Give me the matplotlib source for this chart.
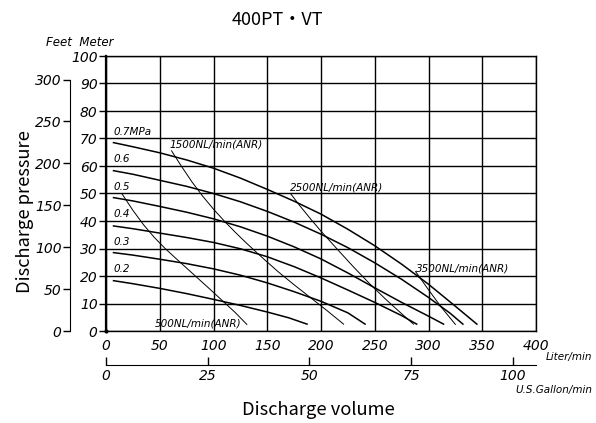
import matplotlib
matplotlib.use("Agg")
import matplotlib.pyplot as plt

plt.rcParams.update({
    "font.family": ["DejaVu Sans", "Noto Sans CJK JP"],
    "font.size": 9,
    "figure.dpi": 100,
})

# pressure curves (air supply pressure, MPa): flow L/min vs head m
p07_x = [7, 25, 50, 75, 100, 125, 150, 175, 200, 225, 250, 275, 300, 325, 345]
p07_y = [68.5, 67.0, 64.8, 62.2, 59.2, 55.6, 51.5, 47.2, 42.5, 37.0, 31.0, 24.3, 17.0, 9.0, 2.5]
p06_x = [7, 25, 50, 75, 100, 125, 150, 175, 200, 225, 250, 275, 300, 320, 332]
p06_y = [58.3, 57.0, 54.8, 52.6, 50.0, 47.0, 43.5, 39.6, 35.2, 30.3, 24.8, 18.8, 12.2, 6.5, 2.5]
p05_x = [7, 25, 50, 75, 100, 125, 150, 175, 200, 225, 250, 275, 300, 314]
p05_y = [48.5, 47.3, 45.3, 43.2, 40.8, 37.9, 34.5, 30.6, 26.2, 21.1, 15.7, 10.4, 5.4, 2.5]
p04_x = [7, 25, 50, 75, 100, 125, 150, 175, 200, 225, 250, 275, 289]
p04_y = [38.2, 37.2, 35.6, 34.0, 32.2, 29.9, 27.0, 23.4, 19.3, 14.9, 10.4, 5.6, 2.5]
p03_x = [7, 25, 50, 75, 100, 125, 150, 175, 200, 225, 241]
p03_y = [28.5, 27.6, 26.1, 24.5, 22.6, 20.3, 17.5, 14.3, 10.8, 6.6, 2.5]
p02_x = [7, 25, 50, 75, 100, 125, 150, 170, 187]
p02_y = [18.3, 17.2, 15.5, 13.6, 11.5, 9.3, 6.9, 4.8, 2.5]

pressure_curves = [
    ("0.7MPa", p07_x, p07_y, 70),
    ("0.6", p06_x, p06_y, 60),
    ("0.5", p05_x, p05_y, 50),
    ("0.4", p04_x, p04_y, 40),
    ("0.3", p03_x, p03_y, 30),
    ("0.2", p02_x, p02_y, 20),
]

# air consumption lines (NL/min ANR)
a500_x = [15, 25, 35, 45, 55, 65, 80, 95, 110, 120, 131]
a500_y = [49.8, 43.9, 38.6, 34.0, 30.0, 26.4, 21.1, 15.8, 10.4, 6.8, 2.4]
a1500_x = [61, 70, 80, 90, 100, 110, 120, 130, 145, 160, 175, 190, 205, 221]
a1500_y = [65.5, 60.0, 54.2, 49.0, 44.3, 40.0, 36.0, 32.2, 26.8, 21.6, 16.8, 12.2, 7.6, 2.5]
a2500_x = [172, 180, 190, 200, 215, 230, 245, 260, 275, 286]
a2500_y = [49.8, 45.7, 40.9, 36.3, 29.8, 23.4, 17.3, 11.6, 6.3, 2.5]
a3500_x = [288, 300, 312, 325]
a3500_y = [21.6, 15.0, 8.6, 2.4]

air_lines = [(a500_x, a500_y), (a1500_x, a1500_y), (a2500_x, a2500_y), (a3500_x, a3500_y)]
air_labels = [
    ("500NL/min(ANR)", 45, 0.8),
    ("1500NL/min(ANR)", 59, 66.0),
    ("2500NL/min(ANR)", 171, 50.5),
    ("3500NL/min(ANR)", 288, 21.0),
]

m_ticks = list(range(0, 101, 10))
ft_ticks = list(range(0, 301, 50))
l_ticks = list(range(0, 401, 50))
gal_ticks = [0, 25, 50, 75, 100]

fig = plt.figure(figsize=(5.96, 4.23))
ax = fig.add_axes([106 / 596, 1 - 331 / 423, 430 / 596, 275 / 423])

ax.set_xlim(0, 400)
ax.set_ylim(0, 100)
ax.set_xticks(l_ticks)
ax.set_yticks(m_ticks)
ax.grid(True, color="black", linewidth=1.0)
for s in ax.spines.values():
    s.set_linewidth(1.0)
ax.spines["left"].set_linewidth(1.6)
ax.tick_params(axis="x", length=0, pad=6, labelsize=10)
ax.tick_params(axis="y", length=5, width=1, pad=1, labelsize=10)
for lab in ax.get_xticklabels() + ax.get_yticklabels():
    lab.set_style("italic")

for name, xs, ys, ylab in pressure_curves:
    ax.plot(xs, ys, color="black", linewidth=1.1)
    ax.text(7, ylab + 0.6, name, fontsize=7.5, style="italic", va="bottom", ha="left")

for xs, ys in air_lines:
    ax.plot(xs, ys, color="black", linewidth=0.7)

for name, x, y in air_labels:
    ax.text(x, y, name, fontsize=7.5, style="italic", va="bottom", ha="left")

ax.plot([0], [0], "k.", markersize=4, clip_on=False)

# feet scale on the left
ax_ft = ax.secondary_yaxis(-36 / 430, functions=(lambda m: m / 0.3048, lambda f: f * 0.3048))
ax_ft.set_yticks(ft_ticks)
ax_ft.spines["left"].set_bounds(0, 300)
ax_ft.tick_params(length=5, width=1, pad=1, labelsize=10)
for lab in ax_ft.get_yticklabels():
    lab.set_style("italic")

# gallon scale below
ax_gal = ax.secondary_xaxis(-34 / 275, functions=(lambda l: l / 3.785, lambda g: g * 3.785))
ax_gal.set_xticks(gal_ticks)
ax_gal.spines["bottom"].set_bounds(0, 400 / 3.785)
ax_gal.tick_params(direction="in", length=6, width=1, pad=3, labelsize=10)
for lab in ax_gal.get_xticklabels():
    lab.set_style("italic")

ax.text(1.13, -0.094, "Liter/min", transform=ax.transAxes, fontsize=7.5,
        style="italic", ha="right", va="center")
ax.text(1.13, -0.214, "U.S.Gallon/min", transform=ax.transAxes, fontsize=7.5,
        style="italic", ha="right", va="center")

fig.text(46 / 596, 1 - 43 / 423, "Feet  Meter", fontsize=8.5, style="italic", va="center")
fig.text(277 / 596, 1 - 20 / 423, "400PT・VT", fontsize=13, ha="center", va="center",
         family=["Noto Sans CJK JP", "DejaVu Sans"])
fig.text(25 / 596, 1 - 212 / 423, "Discharge pressure", fontsize=13.2, rotation=90,
         ha="center", va="center", family=["Noto Sans CJK JP", "DejaVu Sans"])
fig.text(318 / 596, 1 - 410 / 423, "Discharge volume", fontsize=13.2,
         ha="center", va="center", family=["Noto Sans CJK JP", "DejaVu Sans"])

fig.savefig("out.png", dpi=100, facecolor="white")
